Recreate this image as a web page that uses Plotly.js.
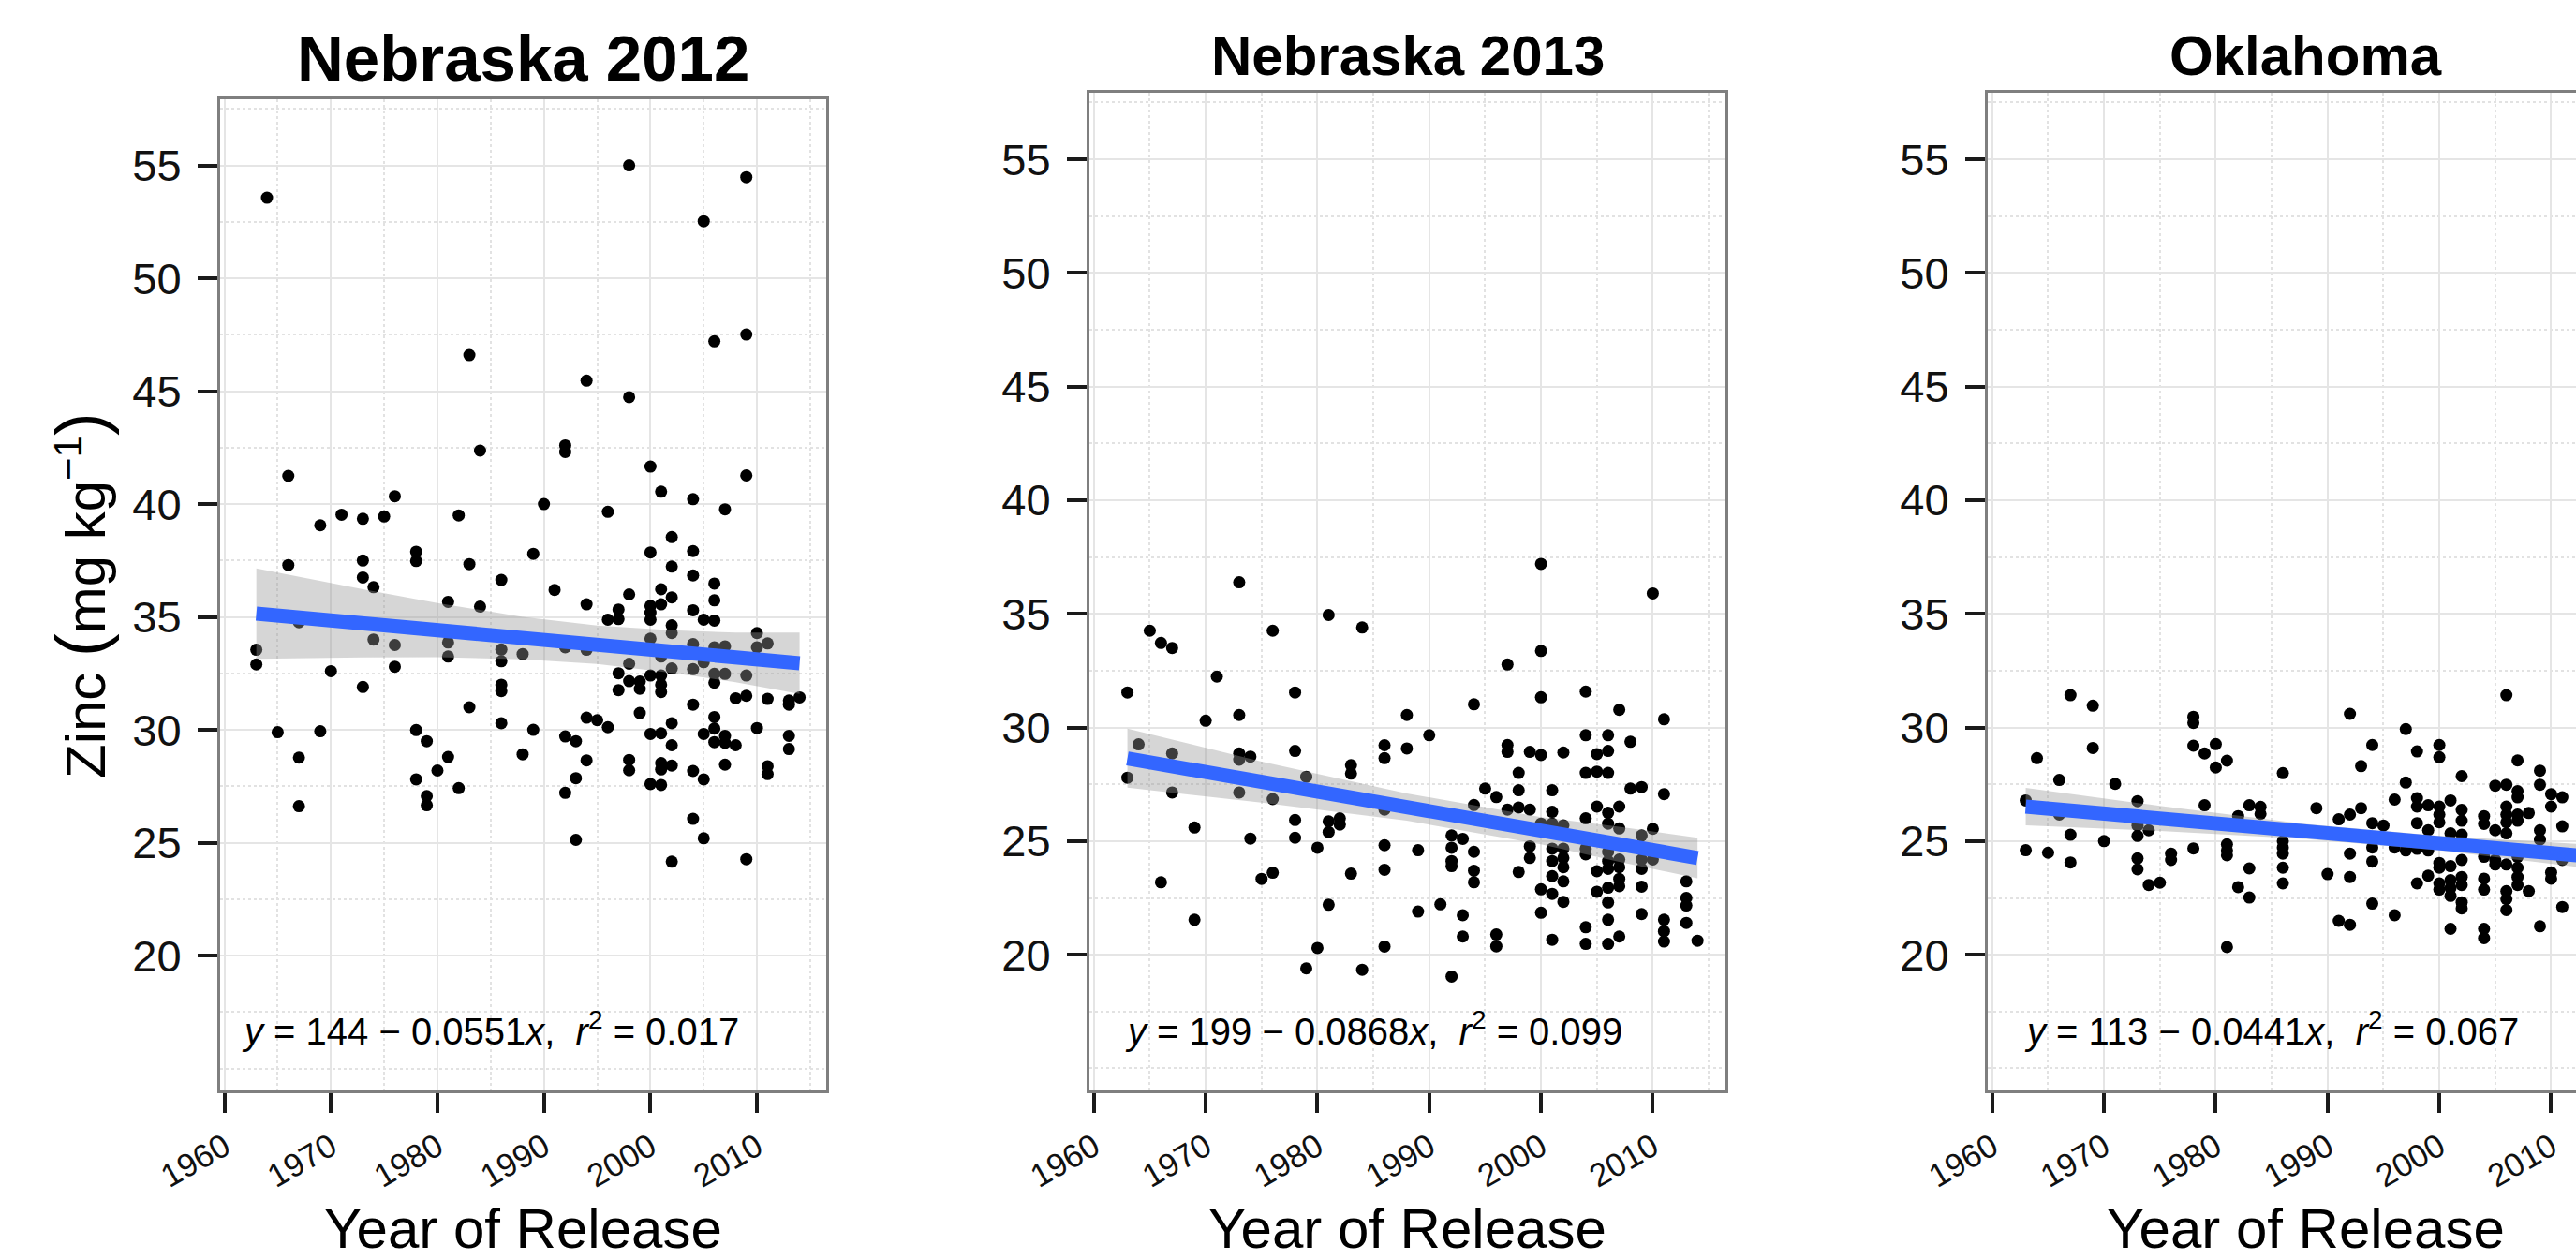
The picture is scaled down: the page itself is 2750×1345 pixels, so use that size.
<!DOCTYPE html>
<html>
<head>
<meta charset="utf-8">
<script src="https://cdn.plot.ly/plotly-3.0.1.min.js"></script>
<style>
html,body{margin:0;padding:0;overflow:hidden;background:#fff;width:2750px;height:1345px}
#chart{width:2820px;height:1345px}
</style>
</head>
<body>
<div id="chart"></div>
<script>
// ---------------- DATA ----------------
const panelTitles = ['Nebraska 2012', 'Nebraska 2013', 'Oklahoma'];
const xTitle = 'Year of Release';
const xTickVals = [1960, 1970, 1980, 1990, 2000, 2010];
const yTickVals = [20, 25, 30, 35, 40, 45, 50, 55];
const eqTexts = [
  '<i>y</i> = 144 \u2212 0.0551<i>x</i>,&nbsp; <i>r</i><sup>2</sup> = 0.017',
  '<i>y</i> = 199 \u2212 0.0868<i>x</i>,&nbsp; <i>r</i><sup>2</sup> = 0.099',
  '<i>y</i> = 113 \u2212 0.0441<i>x</i>,&nbsp; <i>r</i><sup>2</sup> = 0.067'
];

// Nebraska 2012: release years and zinc values per year
const neb12Years = [1963,1964,1965,1966,1967,1969,1970,1971,1973,1974,
                    1975,1976,1978,1979,1980,1981,1982,1983,1984,1986,
                    1988,1989,1990,1991,1992,1993,1994,1995,1996,1997,
                    1998,1999,2000,2001,2002,2004,2005,2006,2007,2008,
                    2009,2010,2011,2013,2014];
const neb12Zinc = [
  [33.55,32.9],[53.57],[29.9],[41.25,37.3],[34.77,28.77,26.62],
  [39.06,29.94],[32.6],[39.53],[39.35,37.5,36.75,31.9],[36.32,34.0],
  [39.45],[40.35,33.76,32.8],[37.89,37.48,29.99,27.81],[29.5,27.07,26.66],[28.2],
  [35.67,33.87,33.25,28.8],[39.5,27.42],[46.6,37.34,31.0],[42.37,35.46],[36.64,33.56,33.04,32.0,31.72,30.3],
  [33.36,28.92],[37.8,30.0],[40.0],[36.2],[42.6,42.31,33.66,29.71,27.21],
  [29.5,27.86,25.13],[45.47,35.56,33.55,30.54,28.65],[30.43],[39.66,34.88,30.12],[35.33,34.91,32.51,31.76],
  [55.0,44.74,36.0,32.93,32.16,28.67,28.21],[32.14,31.82,30.75],
  [41.66,37.86,35.49,35.19,34.88,34.04,32.41,29.82,27.6],
  [40.55,36.23,35.56,33.25,32.41,32.0,31.68,29.85,28.53,28.25,27.56],
  [38.54,37.23,35.87,34.63,34.29,32.72,30.3,29.32,28.42,24.16],
  [40.22,37.92,36.84,35.3,33.8,32.69,31.12,28.18,26.06],
  [52.53,34.88,33.0,29.82,27.81,25.2],
  [47.21,36.48,35.74,34.84,33.66,32.48,32.09,30.57,30.06,29.46],
  [39.77,33.7,32.48,29.74,29.43,28.46],[31.4,29.32],
  [54.48,47.51,41.27,32.41,31.51,24.27],[34.29,33.66,30.08],[33.83,31.37,28.39,28.04],[31.3,31.12,29.74,29.15],[31.44]
];
const neb12FitYears = [1963,1973,1980,1988,1995,2002,2008,2014];
const neb12FitHi = [37.15,36.23,35.62,35.01,34.62,34.41,34.31,34.31];
const neb12FitLo = [33.15,33.21,33.22,33.13,32.92,32.53,32.11,31.59];
const neb12LineYears = [1963, 2014];
const neb12Line = [35.15, 32.95];

// Nebraska 2013
const neb13Years = [1963,1964,1965,1966,1967,1969,1970,1971,1973,1974,
                    1975,1976,1978,1979,1980,1981,1982,1983,1984,1986,
                    1988,1989,1990,1991,1992,1993,1994,1995,1996,1997,
                    1998,1999,2000,2001,2002,2004,2005,2006,2007,2008,
                    2009,2010,2011,2013,2014];
const neb13Zinc = [
  [31.54,27.79],[29.26],[34.26],[33.72,23.19],[33.5,28.86,27.14],
  [25.6,21.54],[30.3],[32.24],[36.39,30.55,28.86,28.58,27.14],[28.72,25.11],
  [23.34],[34.26,26.85,23.61],[31.54,28.97,25.93,25.15],[27.83,19.4],[24.71,20.3],
  [34.95,25.87,25.4,22.2],[26.0,25.73],[28.34,27.97,23.57],[34.4,19.34],[29.22,28.65,26.39,24.82,23.74,20.36],
  [30.55,29.08],[24.6,21.9],[29.66],[22.22],[25.25,24.71,24.12,23.9,19.04],
  [25.1,21.74,20.8],[31.02,26.59,24.53,23.7,23.19],[27.31],[26.94,20.89,20.37],[32.77,29.23,28.93,26.39],
  [28.0,27.24,26.48,23.64],[28.93,26.39,24.77,24.26],
  [37.2,33.37,31.33,28.79,25.77,22.88,21.85],
  [27.24,26.29,25.77,24.67,24.12,23.46,22.68,20.66],
  [28.9,25.7,24.67,24.26,23.85,23.23,22.33],
  [31.58,29.66,28.0,26.0,24.67,24.42,21.21,20.48],
  [28.83,28.06,26.52,23.68,22.77],
  [29.66,28.97,28.0,26.25,25.77,24.53,24.12,23.78,22.95,22.3,21.54,20.48],
  [30.78,26.52,25.56,24.19,23.85,23.34,23.02,20.8],[29.37,27.31],
  [27.38,25.25,24.19,23.78,23.0,21.79],[35.9,25.54,24.19],[30.36,27.07,21.54,21.03,20.58],[23.23,22.5,22.17,21.4],[20.62]
];
const neb13FitYears = [1963,1975,1988,2000,2007,2014];
const neb13FitHi = [29.95,28.5,27.1,26.06,25.63,25.15];
const neb13FitLo = [27.35,26.7,25.9,24.86,24.09,23.37];
const neb13LineYears = [1963, 2014];
const neb13Line = [28.64, 24.26];

// Oklahoma
const okYears = [1963,1964,1965,1966,1967,1969,1970,1971,1973,1974,
                 1975,1976,1978,1979,1980,1981,1982,1983,1984,1986,
                 1989,1990,1991,1992,1993,1994,1995,1996,1997,1998,
                 1999,2000,2001,2002,2004,2005,2006,2007,2008,2009,
                 2010,2011];
const okZinc = [
  [26.79,24.6],[28.65],[24.49],[27.69,26.17],[31.42,25.28,24.06],
  [30.96,29.1],[25.0],[27.52],[26.76,25.69,25.23,24.24,23.76],[25.48,23.07],
  [23.17],[24.45,24.17],[30.47,30.2,29.2,24.68],[28.86,26.58],[29.27,28.24],
  [28.54,24.86,24.59,24.38,20.34],[26.1,22.98],[26.58,23.8,22.52],[26.51,26.2],[27.99,25.0,24.72,24.45,23.83,23.14],
  [26.45],[23.55],[25.96,21.49],[30.6,26.17,24.45,23.42,21.32],[28.3,26.45],
  [29.23,25.79,24.72,24.1,22.25],[25.69],[26.83,24.72,21.74],[29.93,27.58,24.59],[28.95,26.89,26.52,25.79,24.66,23.14],
  [26.58,25.48,24.59,23.48],
  [29.23,28.69,26.52,26.17,25.83,24.04,23.83,23.14,22.87],
  [26.79,25.34,23.9,23.28,22.93,22.59,21.14],
  [27.86,26.38,25.9,25.28,24.17,23.42,23.07,22.31,22.04],
  [26.1,25.76,24.31,23.35,22.87,21.14,20.73],
  [27.44,25.48,24.17,23.97],
  [31.42,27.48,26.52,26.17,25.83,25.34,23.97,22.8,22.45,21.97],
  [28.55,27.2,26.93,26.17,25.9,24.31,23.83,23.42,23.07],
  [26.24,22.8],[28.1,27.48,25.48,25.07,21.25],
  [27.07,26.52,23.62,23.35],[26.93,25.65,24.17,22.1]
];
const okFitYears = [1963,1975,1988,2000,2014];
const okFitHi = [27.34,26.55,25.76,25.23,24.83];
const okFitLo = [25.7,25.45,25.1,24.59,23.77];
const okLineYears = [1963, 2014];
const okLine = [26.52, 24.3];

// ---------------- BUILD ----------------
const W = 2820, H = 1345;
const FONT = 'Liberation Sans, Arial, Helvetica, sans-serif';
const px = v => v / W;
const py = v => 1 - v / H;

const panels = [
  {years: neb12Years, zinc: neb12Zinc, fy: neb12FitYears, hi: neb12FitHi, lo: neb12FitLo, ly: neb12LineYears, lv: neb12Line,
   box: {l: 235, r: 882, t: 106, b: 1164}, titleSize: 69, titleY: 63},
  {years: neb13Years, zinc: neb13Zinc, fy: neb13FitYears, hi: neb13FitHi, lo: neb13FitLo, ly: neb13LineYears, lv: neb13Line,
   box: {l: 1163, r: 1842, t: 99, b: 1164}, titleSize: 60, titleY: 59},
  {years: okYears, zinc: okZinc, fy: okFitYears, hi: okFitHi, lo: okFitLo, ly: okLineYears, lv: okLine,
   box: {l: 2122, r: 2801, t: 99, b: 1164}, titleSize: 60, titleY: 59}
];

function flatten(years, groups) {
  const x = [], y = [];
  years.forEach((yr, i) => (groups[i] || []).forEach(v => { x.push(yr); y.push(v); }));
  return {x, y};
}

const traces = [];
const layout = {
  width: W, height: H,
  margin: {l: 0, r: 0, t: 0, b: 0},
  paper_bgcolor: '#ffffff', plot_bgcolor: '#ffffff',
  showlegend: false,
  font: {family: FONT, color: '#000'},
  annotations: []
};

panels.forEach((p, i) => {
  const n = i === 0 ? '' : String(i + 1);
  const xa = 'x' + n, ya = 'y' + n;
  const pts = flatten(p.years, p.zinc);
  traces.push({type: 'scatter', mode: 'markers', x: pts.x, y: pts.y, xaxis: xa, yaxis: ya,
    marker: {color: '#000000', size: 13, line: {width: 0}}, hoverinfo: 'skip'});
  traces.push({type: 'scatter', mode: 'lines', xaxis: xa, yaxis: ya,
    x: p.fy.concat(p.fy.slice().reverse()),
    y: p.hi.concat(p.lo.slice().reverse()),
    fill: 'toself', fillcolor: 'rgba(153,153,153,0.4)', line: {width: 0}, hoverinfo: 'skip'});
  traces.push({type: 'scatter', mode: 'lines', xaxis: xa, yaxis: ya, x: p.ly, y: p.lv,
    line: {color: '#3366FF', width: 15}, hoverinfo: 'skip'});

  const common = {
    showline: true, linecolor: '#7f7f7f', linewidth: 3, mirror: true,
    ticks: 'outside', ticklen: 21, tickwidth: 4, tickcolor: '#1a1a1a',
    showgrid: true, gridcolor: '#e5e5e5', gridwidth: 2, zeroline: false,
    fixedrange: true
  };
  layout['xaxis' + n] = Object.assign({}, common, {
    domain: [px(p.box.l), px(p.box.r)], anchor: ya, range: [1959.6, 2016.5],
    tickmode: 'array', tickvals: xTickVals, ticktext: xTickVals.map(String),
    tickangle: -30, tickfont: {size: 35, color: '#111', family: FONT}, ticklabelstandoff: 2,
    minor: {tickmode: 'linear', tick0: 1960, dtick: 5, showgrid: true, gridcolor: '#e2e2e2', gridwidth: 2, griddash: 'dot', ticks: ''}
  });
  layout['yaxis' + n] = Object.assign({}, common, {
    domain: [py(p.box.b), py(p.box.t)], anchor: xa, range: [14.03, 57.93],
    tickmode: 'array', tickvals: yTickVals, ticktext: yTickVals.map(String),
    tickfont: {size: 47, color: '#111', family: FONT}, ticklabelstandoff: 8,
    minor: {tickmode: 'linear', tick0: 0, dtick: 2.5, showgrid: true, gridcolor: '#e2e2e2', gridwidth: 2, griddash: 'dot', ticks: ''}
  });

  const cx = (p.box.l + p.box.r) / 2;
  layout.annotations.push({xref: 'paper', yref: 'paper', x: px(cx), y: py(p.titleY),
    xanchor: 'center', yanchor: 'middle', showarrow: false,
    text: '<b>' + panelTitles[i] + '</b>', font: {size: p.titleSize, family: FONT, color: '#000'}});
  layout.annotations.push({xref: 'paper', yref: 'paper', x: px(cx), y: py(1311),
    xanchor: 'center', yanchor: 'middle', showarrow: false,
    text: xTitle, font: {size: 60, family: FONT, color: '#000'}});
  layout.annotations.push({xref: xa, yref: ya, x: 1985, y: 16.75,
    xanchor: 'center', yanchor: 'middle', showarrow: false,
    text: eqTexts[i], font: {size: 40, family: FONT, color: '#000'}});
});

layout.annotations.push({xref: 'paper', yref: 'paper', x: px(86), y: py(636),
  xanchor: 'center', yanchor: 'middle', showarrow: false, textangle: -90,
  text: 'Zinc <span style="font-size:74px">(</span>mg kg<sup>\u22121</sup><span style="font-size:74px">)</span>',
  font: {size: 60, family: FONT, color: '#000'}});

Plotly.newPlot('chart', traces, layout, {staticPlot: true, displayModeBar: false});
</script>
</body>
</html>
